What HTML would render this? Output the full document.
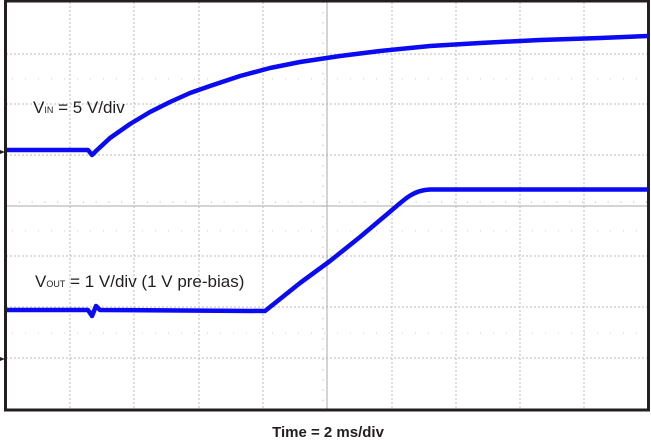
<!DOCTYPE html>
<html><head><style>
body{margin:0;background:#fff;width:651px;height:443px;overflow:hidden}
</style></head><body>
<svg width="651" height="443" xmlns="http://www.w3.org/2000/svg" style="position:absolute;left:0;top:0">
<g stroke="#bbb" stroke-width="1" stroke-dasharray="2,2">
<line x1="70" y1="2" x2="70" y2="409"/><line x1="134" y1="2" x2="134" y2="409"/><line x1="199" y1="2" x2="199" y2="409"/><line x1="263" y1="2" x2="263" y2="409"/><line x1="392" y1="2" x2="392" y2="409"/><line x1="456" y1="2" x2="456" y2="409"/><line x1="520" y1="2" x2="520" y2="409"/><line x1="584" y1="2" x2="584" y2="409"/>
<line x1="6" y1="54" x2="648" y2="54"/><line x1="6" y1="104" x2="648" y2="104"/><line x1="6" y1="155" x2="648" y2="155"/><line x1="6" y1="256" x2="648" y2="256"/><line x1="6" y1="307" x2="648" y2="307"/><line x1="6" y1="358" x2="648" y2="358"/>
</g>
<g stroke="#aaa" stroke-width="1">
<line x1="327" y1="2" x2="327" y2="409"/><line x1="6" y1="206" x2="648" y2="206"/>
</g>
<g stroke="#aaa" stroke-width="1">
<line x1="323" y1="2" x2="323" y2="409" stroke-dasharray="1,9.2"/>
<line x1="6" y1="202" x2="648" y2="202" stroke-dasharray="1,11.8"/>
</g>
<g stroke="#ccc" stroke-width="1" stroke-dasharray="1,12" stroke-dashoffset="-6">
<line x1="6" y1="79" x2="648" y2="79"/><line x1="6" y1="231" x2="648" y2="231"/><line x1="6" y1="333" x2="648" y2="333"/>
</g>
<rect x="5.5" y="1" width="643" height="409" fill="none" stroke="#231f20" stroke-width="3"/>
<path d="M0,150 L5,152 L0,154Z M0,357 L5,359 L0,361Z" fill="#231f20"/>
<polyline points="7,150 88,150 92,155 96,151 110,138 130,124 150,112 170,102 190,93 210,86 240,76 270,68 300,62 340,56 380,51 430,46 480,43 540,40 600,38 648,36" fill="none" stroke="#0a0af5" stroke-width="4.5" stroke-linejoin="round"/>
<path d="M7,310 L88,310 L92,316 L96,306 L100,310 L265,311 L300,283 L330,261 L360,237 L392,210 C405,199 412,192 425,190 L430,189.5 L648,189.5" fill="none" stroke="#0a0af5" stroke-width="4.5" stroke-linejoin="round"/>
<g font-family="Liberation Sans, sans-serif" fill="#231f20">
<text x="33" y="113" font-size="17">V<tspan font-size="9">IN</tspan> = 5 V/div</text>
<text x="35" y="287" font-size="17">V<tspan font-size="9">OUT</tspan> = 1 V/div (1 V pre-bias)</text>
<text x="328" y="437" font-size="15" font-weight="bold" text-anchor="middle">Time = 2 ms/div</text>
</g>
</svg>
</body></html>
